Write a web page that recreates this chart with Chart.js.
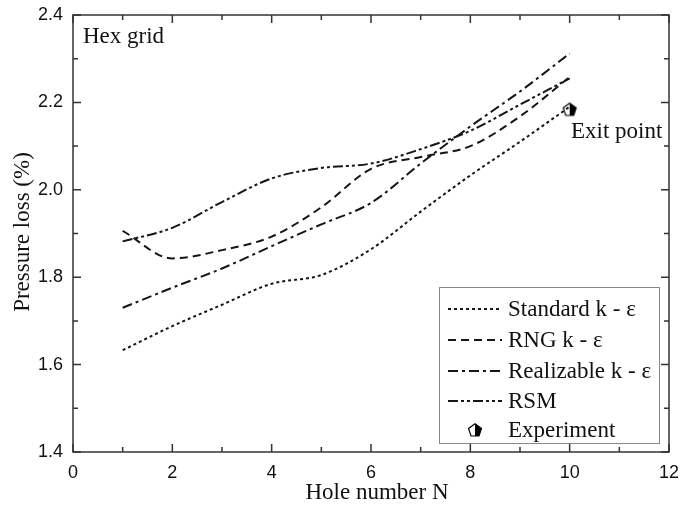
<!DOCTYPE html>
<html>
<head>
<meta charset="utf-8">
<script src="https://cdn.jsdelivr.net/npm/chart.js@4"></script>
<style>
  html, body { margin: 0; padding: 0; background: #fff; }
  #wrap { width: 680px; height: 508px; }
</style>
</head>
<body>
<div id="wrap"><canvas id="chart" width="680" height="508"></canvas></div>
<script>
// valeurs
const holes = [1, 2, 3, 4, 5, 6, 7, 8, 9, 10];
const standardKE = [1.633, 1.688, 1.737, 1.785, 1.805, 1.864, 1.950, 2.033, 2.110, 2.190];
const rngKE = [1.906, 1.843, 1.862, 1.893, 1.960, 2.048, 2.075, 2.100, 2.168, 2.258];
const realizableKE = [1.730, 1.776, 1.820, 1.871, 1.921, 1.970, 2.060, 2.145, 2.225, 2.312];
const rsm = [1.882, 1.913, 1.972, 2.026, 2.050, 2.060, 2.093, 2.135, 2.195, 2.255];
const experiment = [{ x: 10, y: 2.184 }];

const seriesLabels = ['Standard k - ε', 'RNG k - ε', 'Realizable k - ε', 'RSM', 'Experiment'];
const dashes = [[3, 3], [8, 5], [10, 4, 3, 4], [10, 3, 3, 3, 3, 3]];

const ink = '#161616';
const serif = '"Liberation Serif", "Times New Roman", serif';
const sans = '"Liberation Sans", Arial, sans-serif';

// pentagone à moitié plein (marqueur expérience)
function pentagon(size) {
  const c = document.createElement('canvas');
  c.width = size; c.height = size;
  const g = c.getContext('2d');
  const cx = size / 2, cy = size / 2 + 0.5, r = size / 2 - 1.2;
  const pts = [];
  for (let i = 0; i < 5; i++) {
    const a = -Math.PI / 2 + i * 2 * Math.PI / 5;
    pts.push([cx + r * Math.cos(a), cy + r * Math.sin(a)]);
  }
  const path = () => {
    g.beginPath();
    pts.forEach((p, i) => i ? g.lineTo(p[0], p[1]) : g.moveTo(p[0], p[1]));
    g.closePath();
  };
  path();
  g.fillStyle = '#fff'; g.fill();
  g.save();
  path(); g.clip();
  g.fillStyle = '#000';
  g.fillRect(cx, 0, size, size);
  g.restore();
  path();
  g.lineWidth = 1.2; g.strokeStyle = '#000'; g.stroke();
  return c;
}
const marker = pentagon(16);

const curves = [standardKE, rngKE, realizableKE, rsm];
const datasets = curves.map((vals, i) => ({
  label: seriesLabels[i],
  data: holes.map((h, j) => ({ x: h, y: vals[j] })),
  showLine: true,
  borderColor: ink,
  borderWidth: 2,
  borderDash: dashes[i],
  pointRadius: 0,
  fill: false,
  cubicInterpolationMode: 'monotone'
}));
datasets.push({
  label: seriesLabels[4],
  data: experiment,
  showLine: false,
  pointStyle: marker,
  pointRadius: 8
});

// cadre, graduations vers l'intérieur, textes et légende
const decor = {
  id: 'decor',
  afterDraw(chart) {
    const ctx = chart.ctx;
    const a = chart.chartArea;
    const xs = chart.scales.x, ys = chart.scales.y;
    ctx.save();
    ctx.strokeStyle = '#333';
    ctx.lineWidth = 1.5;
    ctx.strokeRect(a.left, a.top, a.right - a.left, a.bottom - a.top);
    ctx.beginPath();
    for (let v = 0; v <= 12; v++) {
      const px = xs.getPixelForValue(v);
      const len = v % 2 === 0 ? 8 : 5;
      ctx.moveTo(px, a.bottom); ctx.lineTo(px, a.bottom - len);
      ctx.moveTo(px, a.top); ctx.lineTo(px, a.top + len);
    }
    for (let k = 14; k <= 24; k++) {
      const py = ys.getPixelForValue(k / 10);
      const len = k % 2 === 0 ? 8 : 5;
      ctx.moveTo(a.left, py); ctx.lineTo(a.left + len, py);
      ctx.moveTo(a.right, py); ctx.lineTo(a.right - len, py);
    }
    ctx.stroke();

    ctx.fillStyle = '#111';
    ctx.font = '23px ' + serif;
    ctx.textBaseline = 'alphabetic';
    ctx.textAlign = 'left';
    ctx.fillText('Hex grid', 83, 43);
    ctx.fillText('Exit point', 571, 138);

    // titres des axes
    ctx.textAlign = 'center';
    ctx.fillText('Hole number N', 377, 499);
    ctx.save();
    ctx.translate(29, 232);
    ctx.rotate(-Math.PI / 2);
    ctx.fillText('Pressure loss (%)', 0, 0);
    ctx.restore();

    // légende
    ctx.textAlign = 'left';
    const bx = 439, by = 287, bw = 220, bh = 156;
    ctx.fillStyle = '#fff';
    ctx.fillRect(bx, by, bw, bh);
    ctx.strokeStyle = '#888';
    ctx.lineWidth = 1;
    ctx.strokeRect(bx + 0.5, by + 0.5, bw, bh);
    const rows = [316, 347, 378, 408, 437];
    chart.data.datasets.forEach((ds, i) => {
      const y = rows[i];
      if (ds.pointStyle instanceof HTMLCanvasElement) {
        ctx.drawImage(ds.pointStyle, 475 - 8, y - 7 - 8);
      } else {
        ctx.beginPath();
        ctx.setLineDash(ds.borderDash);
        ctx.strokeStyle = ink;
        ctx.lineWidth = 2;
        ctx.moveTo(448, y - 7); ctx.lineTo(502, y - 7);
        ctx.stroke();
        ctx.setLineDash([]);
      }
      ctx.fillStyle = '#111';
      ctx.fillText(ds.label, 508, y);
    });
    ctx.restore();
  }
};

new Chart(document.getElementById('chart'), {
  type: 'scatter',
  data: { datasets: datasets },
  plugins: [decor],
  options: {
    responsive: false,
    animation: false,
    layout: { padding: { top: 15, right: 11, left: 0, bottom: 0 } },
    plugins: { legend: { display: false }, tooltip: { enabled: false } },
    scales: {
      x: {
        type: 'linear', min: 0, max: 12,
        afterFit: s => { s.height = 56; s.paddingLeft = 0; s.paddingRight = 0; },
        grid: { display: false, drawTicks: false },
        border: { display: false },
        ticks: {
          stepSize: 1, padding: 10, color: '#111',
          font: { family: sans, size: 18 },
          callback: v => (v % 2 === 0 ? String(v) : '')
        }
      },
      y: {
        type: 'linear', min: 1.4, max: 2.4,
        afterFit: s => { s.width = 73; s.paddingTop = 0; s.paddingBottom = 0; },
        grid: { display: false, drawTicks: false },
        border: { display: false },
        ticks: {
          stepSize: 0.1, padding: 10, color: '#111',
          font: { family: sans, size: 18 },
          callback: v => (Math.round(v * 10) % 2 === 0 ? v.toFixed(1) : '')
        }
      }
    }
  }
});
</script>
</body>
</html>
